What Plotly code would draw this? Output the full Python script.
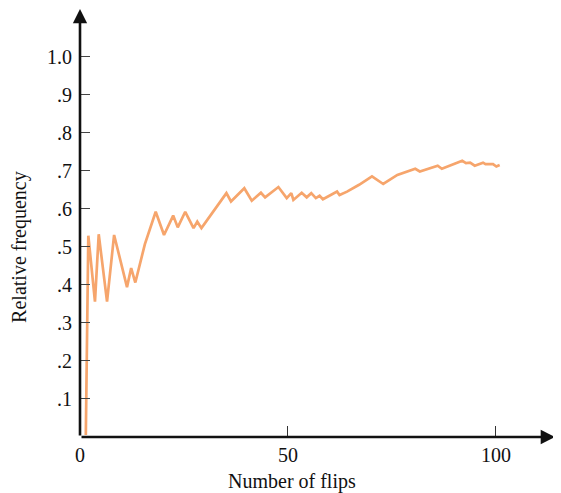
import plotly.graph_objects as go

flips = [1.4, 2.0, 3.6, 4.5, 6.5, 8.2, 11.3, 12.3, 13.3, 15.6, 18.2, 20.2, 22.4, 23.5, 25.3,
         27.3, 28.2, 29.2, 35.2, 36.3, 39.5, 41.3, 43.5, 44.5, 47.7, 49.7, 50.8, 51.3, 53.3,
         54.5, 55.6, 56.7, 57.6, 58.4, 61.8, 62.4, 64.2, 67.1, 70.2, 72.9, 76.3, 78.3, 80.6,
         81.7, 84.0, 86.0, 87.0, 89.2, 91.9, 92.8, 93.8, 94.9, 96.9, 97.5, 99.3, 100.1, 100.9]
rel_freq = [0.005, 0.529, 0.356, 0.533, 0.356, 0.531, 0.394, 0.444, 0.406, 0.507, 0.592, 0.531,
            0.582, 0.551, 0.592, 0.549, 0.566, 0.549, 0.641, 0.619, 0.654, 0.621, 0.642, 0.630,
            0.657, 0.628, 0.641, 0.623, 0.642, 0.630, 0.641, 0.628, 0.634, 0.625, 0.645, 0.636,
            0.645, 0.663, 0.685, 0.665, 0.689, 0.696, 0.705, 0.698, 0.707, 0.713, 0.705, 0.715,
            0.726, 0.720, 0.721, 0.713, 0.721, 0.717, 0.717, 0.711, 0.715]

x_tick_vals = [0, 50, 100]
x_tick_text = ["0", "50", "100"]
y_tick_vals = [0.1, 0.2, 0.3, 0.4, 0.5, 0.6, 0.7, 0.8, 0.9, 1.0]
y_tick_text = [".1", ".2", ".3", ".4", ".5", ".6", ".7", ".8", ".9", "1.0"]

XMAX = 114.2
YMAX = 1.125
FONT = "Liberation Serif"

fig = go.Figure()
fig.add_trace(go.Scatter(x=flips, y=rel_freq, mode="lines",
                         line=dict(color="#F6A56C", width=2.7), hoverinfo="skip"))

# axis lines with arrowheads
fig.add_annotation(x=XMAX, y=0, ax=0, ay=0, xref="x", yref="y", axref="x", ayref="y",
                   showarrow=True, arrowhead=2, arrowsize=1.1, arrowwidth=2.6,
                   arrowcolor="#111111", text="")
fig.add_annotation(x=0, y=YMAX, ax=0, ay=0, xref="x", yref="y", axref="x", ayref="y",
                   showarrow=True, arrowhead=2, arrowsize=1.1, arrowwidth=2.6,
                   arrowcolor="#111111", text="")

fig.add_annotation(text="Relative frequency", xref="paper", yref="paper", x=-0.1265, y=0.444,
                   textangle=-90, showarrow=False, xanchor="center", yanchor="middle",
                   borderpad=0,
                   font=dict(family=FONT, size=20, color="#111111"))
fig.add_annotation(text="Number of flips", xref="paper", yref="paper", x=0.447, y=-0.105,
                   showarrow=False, xanchor="center", yanchor="middle",
                   font=dict(family=FONT, size=20, color="#111111"))

fig.update_xaxes(range=[0, XMAX], tickvals=x_tick_vals, ticktext=x_tick_text,
                 ticks="inside", ticklen=11, tickwidth=1.3, tickcolor="#333333",
                 showgrid=False, zeroline=False, showline=False, automargin=False,
                 ticklabelstandoff=4,
                 tickfont=dict(family=FONT, size=20, color="#111111"))
fig.update_yaxes(range=[0, YMAX], tickvals=y_tick_vals, ticktext=y_tick_text,
                 ticks="inside", ticklen=10, tickwidth=1.3, tickcolor="#444444",
                 showgrid=False, zeroline=False, showline=False, automargin=False,
                 ticklabelstandoff=7,
                 tickfont=dict(family=FONT, size=20, color="#111111"))

# the page body adds an 8px offset, so the figure is sized to fit the rest of the window
fig.update_layout(width=553, height=485, margin=dict(l=72, r=6, t=1, b=56),
                  plot_bgcolor="white", paper_bgcolor="white", showlegend=False)

fig.write_html("out.html")
